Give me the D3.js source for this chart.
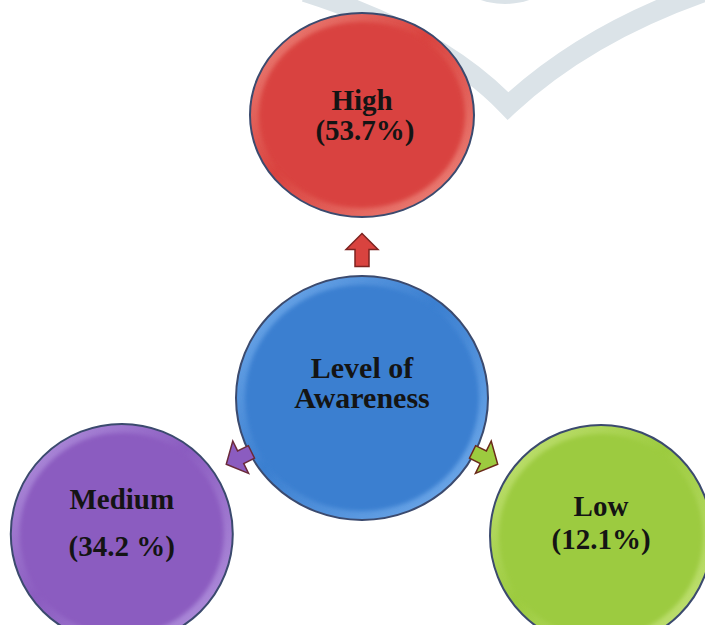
<!DOCTYPE html>
<html>
<head>
<meta charset="utf-8">
<script src="https://cdn.jsdelivr.net/npm/d3@7"></script>
<style>
  body { margin: 0; background: #fff; }
  svg { display: block; }
</style>
</head>
<body>
<div id="chart"></div>
<script>
// chart data
var centerLabel = ["Level of", "Awareness"];
var levels = ["High", "Medium", "Low"];
var shares = [53.7, 34.2, 12.1];
var shareLabels = ["(53.7%)", "(34.2 %)", "(12.1%)"];
var fills = ["#d9433f", "#8b5cc0", "#9ccb3f"];
var rims = ["#ee8a80", "#b597e0", "#c6e47c"];
var arrowStrokes = ["#7d2320", "#6a2a3a", "#6a2a1a"];

// layout
var w = 705, h = 625;
var cx0 = 362, cy0 = 398;
var angles = [-90, 150.5, 30];      // direction of each outer node
var dists = [283, 276, 276];        // centre to centre
var arrowAngles = [-90, 154, 26];
var arrowDists = [148, 137, 137];
var arrowShaft = [17, 12, 12], arrowHead = [16, 16, 16], arrowWidth = [32, 36, 36];
var radX = [112, 111, 111], radY = [102, 110, 111];
var lineGap = [30, 47, 33], textShift = [0, -11, -14];

var svg = d3.select("#chart").append("svg")
    .attr("width", w).attr("height", h);

var defs = svg.append("defs");
defs.append("filter").attr("id", "soft")
    .append("feGaussianBlur").attr("stdDeviation", 2.2);

function addGrad(id, light, main) {
  var g = defs.append("linearGradient").attr("id", id)
      .attr("x1", "0%").attr("y1", "0%").attr("x2", "100%").attr("y2", "100%");
  g.append("stop").attr("offset", "0%").attr("stop-color", light);
  g.append("stop").attr("offset", "45%").attr("stop-color", main);
  g.append("stop").attr("offset", "100%").attr("stop-color", light);
}

// faint watermark behind everything
var wm = svg.append("g").attr("fill", "none").attr("stroke", "#dbe3e8");
wm.append("path")
    .attr("d", "M305,-8 Q440,35 508,106 Q590,30 716,-12")
    .attr("stroke-width", 20).attr("stroke-linejoin", "miter").attr("stroke-miterlimit", 10);
wm.append("ellipse").attr("cx", 505).attr("cy", -18).attr("rx", 42).attr("ry", 22)
    .attr("stroke-width", 0).attr("fill", "#dbe3e8");

var nodes = levels.map(function(name, i) {
  var a = angles[i] * Math.PI / 180, b = arrowAngles[i] * Math.PI / 180;
  return {
    name: name, share: shares[i], label: shareLabels[i], i: i,
    x: cx0 + dists[i] * Math.cos(a), y: cy0 + dists[i] * Math.sin(a),
    ax: cx0 + arrowDists[i] * Math.cos(b), ay: cy0 + arrowDists[i] * Math.sin(b),
    rot: arrowAngles[i] + 90
  };
});

// bevelled disc
function disc(g, x, y, rx, ry, main, rim, id) {
  addGrad(id, rim, main);
  g.append("ellipse").attr("cx", x).attr("cy", y).attr("rx", rx).attr("ry", ry)
      .attr("fill", "url(#" + id + ")").attr("stroke", "#3b4a6e").attr("stroke-width", 2);
  g.append("ellipse").attr("cx", x).attr("cy", y).attr("rx", rx - 9).attr("ry", ry - 9)
      .attr("fill", main).attr("filter", "url(#soft)");
}

// outer circles
nodes.forEach(function(d) {
  var g = svg.append("g");
  disc(g, d.x, d.y, radX[d.i], radY[d.i], fills[d.i], rims[d.i], "grad" + d.i);
  var t = g.append("text")
      .attr("text-anchor", "middle")
      .attr("font-family", "'Liberation Serif', 'DejaVu Serif', serif")
      .attr("font-weight", "bold").attr("font-size", 29).attr("fill", "#141414");
  var top = d.y + textShift[d.i] - lineGap[d.i] / 2 + 10;
  t.append("tspan").attr("x", d.x).attr("y", top).text(d.name);
  t.append("tspan").attr("x", d.x + (d.i === 0 ? 3 : 0)).attr("y", top + lineGap[d.i]).text(d.label);
});

// centre circle
var gc = svg.append("g");
disc(gc, cx0, cy0, 126, 122, "#3b7fd0", "#78b0ee", "gradC");
var tc = gc.append("text")
    .attr("text-anchor", "middle")
    .attr("font-family", "'Liberation Serif', 'DejaVu Serif', serif")
    .attr("font-weight", "bold").attr("font-size", 30).attr("fill", "#141414");
centerLabel.forEach(function(s, k) {
  tc.append("tspan").attr("x", cx0).attr("y", 378 + k * 30).text(s);
});

// arrows (block arrow pointing outward), drawn on top
function arrowPath(i) {
  var hd = arrowHead[i], sh = arrowShaft[i], hw = arrowWidth[i] / 2, sw = 7;
  var top = -(hd + sh) / 2, base = top + hd, bot = base + sh;
  return d3.line()([[0, top], [hw, base], [sw, base], [sw, bot], [-sw, bot], [-sw, base], [-hw, base]]) + "Z";
}
svg.selectAll("path.arrow")
    .data(nodes).enter().append("path")
    .attr("class", "arrow")
    .attr("d", function(d) { return arrowPath(d.i); })
    .attr("transform", function(d) {
      return "translate(" + d.ax + "," + d.ay + ") rotate(" + d.rot + ")";
    })
    .attr("fill", function(d) { return fills[d.i]; })
    .attr("stroke", function(d) { return arrowStrokes[d.i]; })
    .attr("stroke-width", 1.5)
    .attr("stroke-linejoin", "miter");
</script>
</body>
</html>
